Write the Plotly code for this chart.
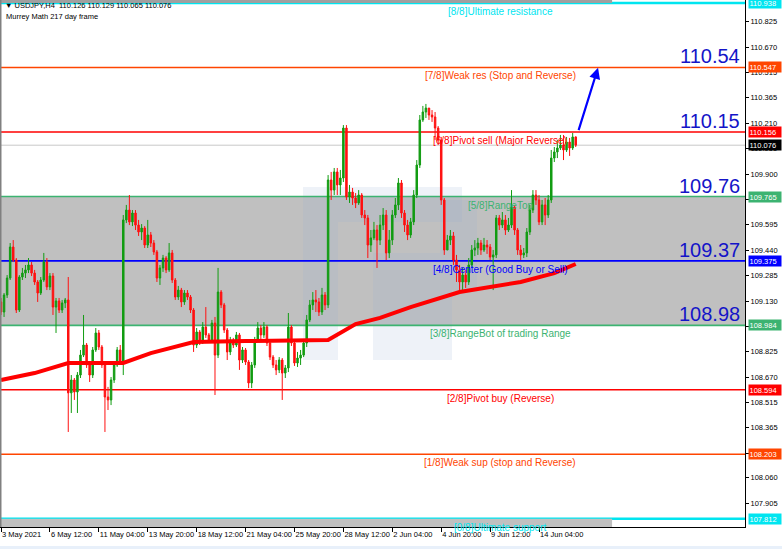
import plotly.graph_objects as go

# ---------------- data ----------------
header_text = "\u25bc USDJPY,H4  110.126 110.129 110.065 110.076"
indicator_text = "Murrey Math 217 day frame"

first_open = 109.126
close = [109.065, 109.168, 109.271, 109.459, 109.380, 109.077, 109.277, 109.301, 109.320, 109.350,
         109.301, 109.247, 109.180, 109.259, 109.368, 109.217, 109.283, 109.095, 109.132, 109.077,
         109.120, 109.138, 108.575, 108.653, 108.580, 108.683, 108.804, 108.865, 108.744, 108.683,
         108.835, 108.938, 108.853, 108.744, 108.550, 108.532, 108.653, 108.744, 108.835, 108.762,
         109.623, 109.683, 109.611, 109.665, 109.592, 109.550, 109.574, 109.471, 109.532, 109.483,
         109.429, 109.271, 109.332, 109.392, 109.320, 109.423, 109.259, 109.156, 109.198, 109.126,
         109.180, 109.156, 109.077, 108.865, 108.944, 108.883, 108.974, 108.926, 108.895, 108.998,
         108.804, 109.186, 109.108, 108.956, 108.823, 108.895, 108.865, 108.926, 108.774, 108.835,
         108.762, 108.635, 108.744, 108.895, 108.968, 108.926, 108.974, 108.877, 108.792, 108.744,
         108.714, 108.774, 108.695, 108.726, 108.974, 108.877, 108.756, 108.786, 108.804, 108.877,
         109.017, 109.108, 109.138, 109.126, 109.065, 109.168, 109.108, 109.865, 109.804, 109.914,
         109.835, 109.877, 110.180, 109.762, 109.792, 109.756, 109.726, 109.774, 109.653, 109.635,
         109.471, 109.514, 109.562, 109.501, 109.592, 109.653, 109.423, 109.501, 109.653, 109.714,
         109.847, 109.665, 109.592, 109.532, 109.611, 109.774, 109.956, 110.229, 110.277, 110.301,
         110.259, 110.247, 110.180, 110.108, 109.744, 109.441, 109.501, 109.526, 109.380, 109.320,
         109.247, 109.289, 109.247, 109.350, 109.441, 109.453, 109.483, 109.441, 109.471, 109.459,
         109.398, 109.411, 109.635, 109.592, 109.623, 109.562, 109.592, 109.701, 109.562, 109.441,
         109.411, 109.423, 109.550, 109.683, 109.774, 109.744, 109.611, 109.714, 109.653, 109.744,
         109.998, 110.035, 110.059, 110.077, 110.047, 110.095, 110.059, 110.126, 110.076]
high = [109.150, 109.180, 109.289, 109.483, 109.501, 109.392, 109.289, 109.332, 109.350, 109.392,
        109.368, 109.320, 109.259, 109.277, 109.423, 109.392, 109.301, 109.301, 109.150, 109.150,
        109.138, 109.150, 109.277, 108.683, 108.665, 108.701, 108.835, 109.047, 108.877, 108.762,
        108.853, 108.968, 108.956, 108.865, 108.756, 108.611, 108.671, 108.762, 108.853, 108.865,
        109.653, 109.714, 109.774, 109.683, 109.683, 109.623, 109.598, 109.586, 109.623, 109.550,
        109.501, 109.441, 109.350, 109.411, 109.404, 109.483, 109.441, 109.271, 109.223, 109.211,
        109.198, 109.198, 109.168, 109.089, 108.968, 108.956, 109.004, 109.095, 108.938, 109.017,
        109.035, 109.332, 109.198, 109.120, 108.968, 108.914, 108.908, 108.944, 108.938, 108.853,
        108.847, 108.774, 108.762, 108.914, 109.004, 108.986, 109.004, 108.986, 108.889, 108.804,
        108.774, 108.792, 108.786, 108.744, 109.059, 108.986, 108.895, 108.823, 108.835, 108.895,
        109.047, 109.138, 109.186, 109.198, 109.150, 109.211, 109.186, 109.895, 109.914, 109.938,
        109.938, 109.926, 110.198, 110.198, 109.835, 109.817, 109.786, 109.804, 109.786, 109.683,
        109.653, 109.562, 109.611, 109.592, 109.653, 109.695, 109.683, 109.562, 109.683, 109.756,
        109.877, 109.865, 109.683, 109.623, 109.635, 109.804, 109.986, 110.259, 110.314, 110.326,
        110.301, 110.289, 110.277, 110.192, 110.126, 109.756, 109.532, 109.562, 109.550, 109.411,
        109.350, 109.332, 109.320, 109.392, 109.471, 109.501, 109.514, 109.501, 109.514, 109.501,
        109.477, 109.441, 109.653, 109.653, 109.671, 109.653, 109.635, 109.804, 109.714, 109.574,
        109.471, 109.453, 109.574, 109.714, 109.804, 109.804, 109.774, 109.744, 109.756, 109.774,
        110.047, 110.065, 110.108, 110.138, 110.138, 110.126, 110.120, 110.150, 110.129]
low = [109.047, 109.035, 109.150, 109.259, 109.368, 109.059, 109.065, 109.259, 109.271, 109.301,
       109.283, 109.229, 109.126, 109.168, 109.247, 109.198, 109.198, 109.047, 108.938, 109.059,
       109.059, 109.089, 108.338, 108.453, 108.532, 108.453, 108.665, 108.792, 108.726, 108.641,
       108.665, 108.823, 108.835, 108.726, 108.338, 108.471, 108.501, 108.635, 108.732, 108.744,
       108.683, 109.604, 109.592, 109.586, 109.562, 109.526, 109.501, 109.453, 109.453, 109.459,
       109.411, 109.247, 109.229, 109.308, 109.301, 109.308, 109.241, 109.138, 109.138, 109.095,
       109.108, 109.138, 109.059, 108.823, 108.847, 108.865, 108.871, 108.908, 108.877, 108.883,
       108.562, 108.786, 109.089, 108.938, 108.774, 108.804, 108.847, 108.853, 108.714, 108.756,
       108.744, 108.604, 108.604, 108.726, 108.883, 108.895, 108.908, 108.859, 108.774, 108.726,
       108.683, 108.695, 108.532, 108.665, 108.701, 108.859, 108.738, 108.732, 108.744, 108.792,
       108.853, 109.004, 109.077, 109.065, 109.041, 109.047, 109.077, 109.089, 109.744, 109.774,
       109.774, 109.774, 109.853, 109.744, 109.726, 109.714, 109.695, 109.714, 109.635, 109.592,
       109.392, 109.429, 109.501, 109.332, 109.471, 109.562, 109.380, 109.392, 109.471, 109.635,
       109.683, 109.635, 109.550, 109.501, 109.514, 109.592, 109.756, 109.938, 110.217, 110.241,
       110.229, 110.217, 110.108, 110.077, 109.714, 109.411, 109.441, 109.471, 109.350, 109.247,
       109.198, 109.198, 109.211, 109.229, 109.332, 109.404, 109.411, 109.411, 109.429, 109.417,
       109.380, 109.198, 109.392, 109.562, 109.574, 109.532, 109.550, 109.574, 109.532, 109.411,
       109.380, 109.392, 109.398, 109.532, 109.665, 109.714, 109.592, 109.592, 109.592, 109.635,
       109.726, 109.974, 109.998, 110.047, 109.986, 110.035, 110.011, 110.047, 110.065]

ma_bars = [0, 11, 22, 40, 49, 55, 63, 80, 100, 107, 116, 124, 134, 150, 170, 181, 188]
ma_values = [108.653, 108.695, 108.756, 108.756, 108.816, 108.847, 108.883, 108.889, 108.889,
             108.895, 108.992, 109.029, 109.095, 109.186, 109.247, 109.301, 109.356]

x_tick_bars = [0, 16, 32, 48, 64, 80, 96, 112, 128, 144, 160, 176]
x_tick_labels = ["3 May 2021", "6 May 12:00", "11 May 04:00", "13 May 20:00", "18 May 12:00",
                 "21 May 04:00", "25 May 20:00", "28 May 12:00", "2 Jun 04:00", "4 Jun 20:00",
                 "9 Jun 12:00", "14 Jun 04:00"]
y_tick_vals = [110.825, 110.670, 110.515, 110.365, 110.210, 110.055, 109.900, 109.745, 109.595,
               109.440, 109.285, 109.130, 108.975, 108.825, 108.670, 108.515, 108.365, 108.210,
               108.060, 107.905, 107.750]

levels = [107.812, 108.203, 108.594, 108.984, 109.375, 109.765, 110.156, 110.547, 110.938]
level_names = ["[0/8]Ultimate support", "[1/8]Weak sup (stop and Reverse)", "[2/8]Pivot buy (Reverse)",
               "[3/8]RangeBot of trading Range", "[4/8]Center (Good Buy or Sell)", "[5/8]RangeTop",
               "[6/8]Pivot sell (Major Reverse)", "[7/8]Weak res (Stop and Reverse)",
               "[8/8]Ultimate resistance"]
level_colors = ["#00E5F0", "#FF4500", "#FF0000", "#3CB371", "#0000FF", "#3CB371", "#FF0000",
                "#FF4500", "#00E5F0"]
big_label_levels = [110.547, 110.156, 109.765, 109.375, 108.984]
big_label_texts = ["110.54", "110.15", "109.76", "109.37", "108.98"]
last_price = 110.076
target_arrow = dict(start_bar=188.8, start_price=110.158, end_bar=195.3, end_price=110.545)

# ---------------- figure ----------------
n = len(close)
bars = list(range(n))
opens = [first_open] + close[:-1]
hi = [max(h, o, c) for h, o, c in zip(high, opens, close)]
lo = [min(l, o, c) for l, o, c in zip(low, opens, close)]

FONT = "Liberation Sans, Arial, sans-serif"
fig = go.Figure()

fig.add_trace(go.Candlestick(
    x=bars, open=opens, high=hi, low=lo, close=close,
    increasing=dict(line=dict(color="#129c12", width=1), fillcolor="#129c12"),
    decreasing=dict(line=dict(color="#ff1010", width=1), fillcolor="#ff1010"),
    whiskerwidth=0, hoverinfo="skip", showlegend=False))

fig.add_trace(go.Scatter(x=ma_bars, y=ma_values, mode="lines",
                         line=dict(color="#ff0000", width=4), hoverinfo="skip", showlegend=False))

shapes = []
shapes.append(dict(type="rect", xref="paper", x0=0, x1=1, yref="y", y0=levels[3], y1=levels[5],
                   fillcolor="#c0c0c0", line=dict(width=0), layer="below"))
shapes.append(dict(type="rect", xref="x", x0=-1, x1=199.9, yref="y", y0=107.40, y1=levels[0],
                   fillcolor="#c0c0c0", line=dict(width=0), layer="below"))
shapes.append(dict(type="rect", xref="x", x0=-1, x1=199.9, yref="y", y0=levels[8], y1=111.3,
                   fillcolor="#a0a0a0", line=dict(width=0), layer="below"))
W, H = 745.0, 527.0
def prect(x0, y0, x1, y1):
    return dict(type="rect", xref="paper", yref="paper", x0=x0 / W, x1=x1 / W,
                y0=1 - y1 / H, y1=1 - y0 / H, fillcolor="rgba(150,175,210,0.16)",
                line=dict(width=0), layer="below")
shapes += [prect(303, 187, 338, 360), prect(338, 187, 462, 222), prect(440, 200, 477, 290),
           prect(373, 253, 440, 290), prect(373, 290, 452, 360)]
for lv, col in zip(levels, level_colors):
    w = 2.5 if col == "#00E5F0" else 1.6
    shapes.append(dict(type="line", xref="paper", x0=0, x1=1, yref="y", y0=lv, y1=lv,
                       line=dict(color=col, width=w), layer="below"))
shapes.append(dict(type="line", xref="paper", x0=0, x1=1, yref="y", y0=last_price, y1=last_price,
                   line=dict(color="#c8c8c8", width=1), layer="below"))
shapes.append(dict(type="line", xref="paper", x0=0.001, x1=0.001, yref="paper", y0=0, y1=1,
                   line=dict(color="#808080", width=1.5)))
shapes.append(dict(type="rect", xref="paper", x0=-0.01, x1=1.06, yref="paper", y0=-0.036, y1=-0.05,
                   fillcolor="#e8f0fa", line=dict(width=0)))

annotations = []
annotations.append(dict(xref="paper", yref="paper", x=3 / W, y=1 - 6 / H, text=header_text,
                        showarrow=False, xanchor="left", yanchor="middle",
                        font=dict(family=FONT, size=7.5, color="black")))
annotations.append(dict(xref="paper", yref="paper", x=4 / W, y=1 - 17 / H, text=indicator_text,
                        showarrow=False, xanchor="left", yanchor="middle",
                        font=dict(family=FONT, size=7.5, color="black")))
for lv, name, col in zip(levels, level_names, level_colors):
    annotations.append(dict(xref="paper", x=500 / W, yref="y", y=lv, text=name, showarrow=False,
                            xanchor="center", yanchor="top", yshift=-1,
                            font=dict(family=FONT, size=10, color=col)))
for lv, txt in zip(big_label_levels, big_label_texts):
    annotations.append(dict(xref="paper", x=1, yref="y", y=lv, text=txt, showarrow=False,
                            xanchor="right", yanchor="bottom", xshift=-3, yshift=-2,
                            font=dict(family=FONT, size=20, color="#1414c8")))
box_levels = levels + [last_price]
box_colors = level_colors + ["#000000"]
for lv, col in zip(box_levels, box_colors):
    annotations.append(dict(xref="paper", x=1, yref="y", y=lv, text="%.3f" % lv, showarrow=False,
                            xanchor="left", yanchor="middle", xshift=3, bgcolor=col,
                            width=31, align="left", borderpad=0.5,
                            font=dict(family=FONT, size=7.5, color="white")))
annotations.append(dict(xref="x", yref="y", x=target_arrow["end_bar"], y=target_arrow["end_price"],
                        axref="x", ayref="y", ax=target_arrow["start_bar"],
                        ay=target_arrow["start_price"], text="", showarrow=True,
                        arrowhead=2, arrowsize=1, arrowwidth=2.2, arrowcolor="#0000ff"))

px_per_bar = 3.057
fig.update_layout(
    width=782, height=549, margin=dict(l=0, r=37, t=0, b=22, pad=0, autoexpand=False),
    paper_bgcolor="white", plot_bgcolor="white", showlegend=False,
    shapes=shapes, annotations=annotations,
    xaxis=dict(range=[-1 / px_per_bar, (745 - 1) / px_per_bar], tickvals=x_tick_bars,
               ticktext=x_tick_labels, ticks="outside", ticklen=4, tickcolor="black",
               showline=True, linecolor="black", linewidth=1, showgrid=False, zeroline=False,
               ticklabelposition="outside right", tickangle=0, automargin=False,
               rangeslider=dict(visible=False),
               tickfont=dict(family=FONT, size=7.5, color="black"), fixedrange=True),
    yaxis=dict(side="right", range=[107.762, 110.956], tickvals=y_tick_vals,
               ticktext=["%.3f" % v for v in y_tick_vals], ticks="outside", ticklen=3,
               tickcolor="black", showline=True, linecolor="black", linewidth=1,
               showgrid=False, zeroline=False, automargin=False,
               tickfont=dict(family=FONT, size=7.5, color="black"), fixedrange=True),
)

fig.write_html("out.html", config={"displayModeBar": False},
               post_script="document.body.style.margin='0';document.body.style.overflow='hidden';")
